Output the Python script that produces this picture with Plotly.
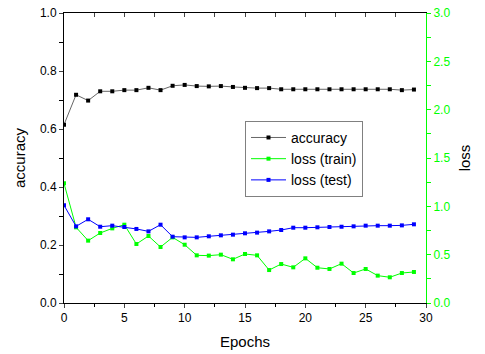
import plotly.graph_objects as go

epochs = list(range(30))
accuracy = [0.615, 0.718, 0.698, 0.730, 0.730, 0.734, 0.734, 0.742, 0.734, 0.749,
            0.752, 0.748, 0.747, 0.748, 0.745, 0.742, 0.741, 0.741, 0.737, 0.737,
            0.737, 0.737, 0.737, 0.737, 0.737, 0.737, 0.737, 0.737, 0.734, 0.736]
loss_train = [1.238, 0.783, 0.645, 0.724, 0.772, 0.810, 0.610, 0.693, 0.579, 0.679,
              0.603, 0.493, 0.490, 0.500, 0.452, 0.507, 0.493, 0.341, 0.403, 0.369,
              0.462, 0.365, 0.352, 0.407, 0.310, 0.352, 0.283, 0.266, 0.310, 0.321]
loss_test = [1.011, 0.793, 0.866, 0.789, 0.800, 0.786, 0.766, 0.741, 0.810, 0.686,
             0.679, 0.679, 0.690, 0.700, 0.707, 0.721, 0.728, 0.741, 0.755, 0.779,
             0.779, 0.783, 0.786, 0.789, 0.793, 0.800, 0.800, 0.800, 0.803, 0.814]

FONT = "Liberation Sans, Arial, sans-serif"
GREEN = "#00FF00"
BLUE = "#0000FF"

fig = go.Figure()
fig.add_trace(go.Scatter(x=epochs, y=accuracy, name="accuracy", mode="lines+markers",
                         line=dict(color="#666666", width=1),
                         marker=dict(symbol="square", size=4, color="black"),
                         xaxis="x", yaxis="y"))
fig.add_trace(go.Scatter(x=epochs, y=loss_train, name="loss (train)", mode="lines+markers",
                         line=dict(color=GREEN, width=1),
                         marker=dict(symbol="square", size=4, color=GREEN),
                         xaxis="x", yaxis="y2"))
fig.add_trace(go.Scatter(x=epochs, y=loss_test, name="loss (test)", mode="lines+markers",
                         line=dict(color=BLUE, width=1),
                         marker=dict(symbol="square", size=4, color=BLUE),
                         xaxis="x", yaxis="y2"))

fig.update_layout(
    width=485, height=354,
    margin=dict(l=64, r=59, t=13, b=51, autoexpand=False),
    paper_bgcolor="white", plot_bgcolor="white",
    font=dict(family=FONT, size=12, color="black"),
    showlegend=True,
    legend=dict(x=0.50, y=0.628, xanchor="left", yanchor="top",
                bordercolor="#808080", borderwidth=1, bgcolor="white",
                font=dict(size=14, family=FONT), tracegroupgap=0,
                itemwidth=35),
    xaxis=dict(range=[0, 30], tick0=0, dtick=5, ticks="outside", ticklen=4,
               showline=True, linecolor="black", linewidth=1, showgrid=False,
               zeroline=False, tickformat="d", automargin=False,
               minor=dict(dtick=2.5, ticks="outside", ticklen=3, tickcolor="black"),
               title=dict(text="Epochs", font=dict(size=15), standoff=12)),
    xaxis2=dict(range=[0, 30], overlaying="x", side="top", dtick=2.5, ticks="inside",
                ticklen=4, showticklabels=False, showline=True, linecolor="black",
                linewidth=1, showgrid=False, zeroline=False, anchor="y", automargin=False),
    yaxis=dict(range=[0, 1], dtick=0.2, tickformat=".1f", ticks="outside", ticklen=4,
               showline=True, linecolor="black", linewidth=1, showgrid=False,
               zeroline=False, automargin=False,
               minor=dict(dtick=0.1, ticks="outside", ticklen=4, tickcolor="black"),
               title=dict(text="accuracy", font=dict(size=15), standoff=10)),
    yaxis2=dict(range=[0, 3], dtick=0.5, tickformat=".1f", overlaying="y", side="right",
                ticks="outside", ticklen=4, tickcolor=GREEN,
                showline=True, linecolor=GREEN, linewidth=1, showgrid=False,
                zeroline=False, tickfont=dict(color=GREEN), automargin=False,
                minor=dict(dtick=0.25, ticks="outside", ticklen=4, tickcolor=GREEN),
                title=dict(text="loss", font=dict(size=15, color="black"), standoff=10)),
)
# invisible trace so the top axis is drawn
fig.add_trace(go.Scatter(x=[0, 30], y=[None, None], xaxis="x2", yaxis="y",
                         showlegend=False, hoverinfo="skip", mode="lines"))

fig.write_html("out.html")
